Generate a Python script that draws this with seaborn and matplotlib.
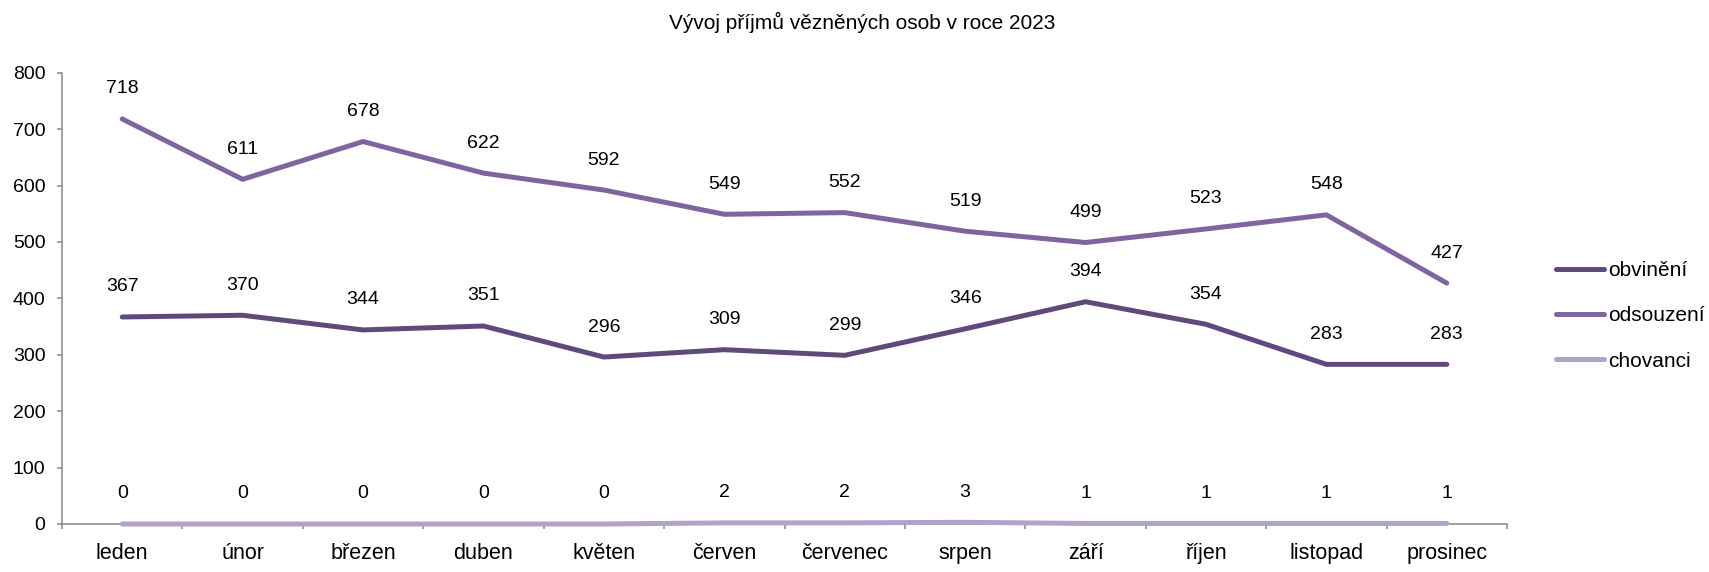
import matplotlib
matplotlib.use("Agg")
import matplotlib.pyplot as plt
import seaborn as sns
import pandas as pd
import numpy as np

# Monthly admissions of imprisoned persons, 2023
months = ["leden", "únor", "březen", "duben", "květen", "červen",
          "červenec", "srpen", "září", "říjen", "listopad", "prosinec"]
obvineni = [367, 370, 344, 351, 296, 309, 299, 346, 394, 354, 283, 283]
odsouzeni = [718, 611, 678, 622, 592, 549, 552, 519, 499, 523, 548, 427]
chovanci = [0, 0, 0, 0, 0, 2, 2, 3, 1, 1, 1, 1]

series_names = ["obvinění", "odsouzení", "chovanci"]
series_values = [obvineni, odsouzeni, chovanci]
colors = ["#604A7B", "#8064A2", "#B3A2C7"]

title = "Vývoj příjmů vězněných osob v roce 2023"
y_ticks = [0, 100, 200, 300, 400, 500, 600, 700, 800]

rows = []
for name, vals in zip(series_names, series_values):
    for i, (m, v) in enumerate(zip(months, vals)):
        rows.append({"pos": i, "month": m, "series": name, "value": v})
df = pd.DataFrame(rows)

sns.set_theme(style="white")
plt.rcParams["font.family"] = ["Liberation Sans", "DejaVu Sans"]
plt.rcParams["text.color"] = "#000000"

W, H = 1709, 572
fig = plt.figure(figsize=(W / 100, H / 100), dpi=100)
ax = fig.add_axes([62 / W, 1 - 524 / H, (1507 - 62) / W, (524 - 72.7) / H])

sns.lineplot(data=df, x="pos", y="value", hue="series", hue_order=series_names,
             palette=colors, linewidth=3.6, ax=ax, legend=True,
             solid_capstyle="round")
for line in ax.get_lines():
    line.set_clip_on(False)
    line.set_zorder(5)

# value labels above every point
for name, vals in zip(series_names, series_values):
    for i, v in enumerate(vals):
        ax.annotate(str(v), (i, v), xytext=(0, 21.6), textcoords="offset points",
                    ha="center", va="center", fontsize=14, color="#000000")

spine_color = "#868686"
ax.set_xlim(-0.5, len(months) - 0.5)
ax.set_ylim(0, 800)
ax.set_yticks(y_ticks)
ax.set_yticklabels([str(t) for t in y_ticks], fontsize=14)
ax.set_xticks(range(len(months)))
ax.set_xticklabels(months, fontsize=15.5)
ax.set_xticks(np.arange(-0.5, len(months), 1.0), minor=True)
ax.tick_params(axis="x", which="major", bottom=True, length=0, pad=14,
               labelcolor="#000000")
ax.tick_params(axis="x", which="minor", bottom=True, length=3.8, width=1.1,
               color=spine_color, direction="out")
ax.tick_params(axis="y", which="major", left=True, length=3.8, width=1.1,
               color=spine_color, direction="out", pad=8, labelcolor="#000000")
for s in ["top", "right"]:
    ax.spines[s].set_visible(False)
for s in ["left", "bottom"]:
    ax.spines[s].set_color(spine_color)
    ax.spines[s].set_linewidth(1.1)
ax.set_xlabel("")
ax.set_ylabel("")
ax.grid(False)

leg = ax.legend(loc="center left", bbox_to_anchor=(1556 / W, 1 - 316 / H),
                bbox_transform=fig.transFigure, frameon=False, fontsize=15,
                handlelength=2.3, handletextpad=0.2, labelspacing=1.25,
                borderpad=0, borderaxespad=0)
for line in leg.get_lines():
    line.set_linewidth(3.6)
    line.set_solid_capstyle("round")
for t in leg.get_texts():
    t.set_color("#000000")

fig.text(862 / W, 1 - 22 / H, title, ha="center", va="center", fontsize=15,
         color="#000000")

fig.savefig("out.png", dpi=100, facecolor="white")
